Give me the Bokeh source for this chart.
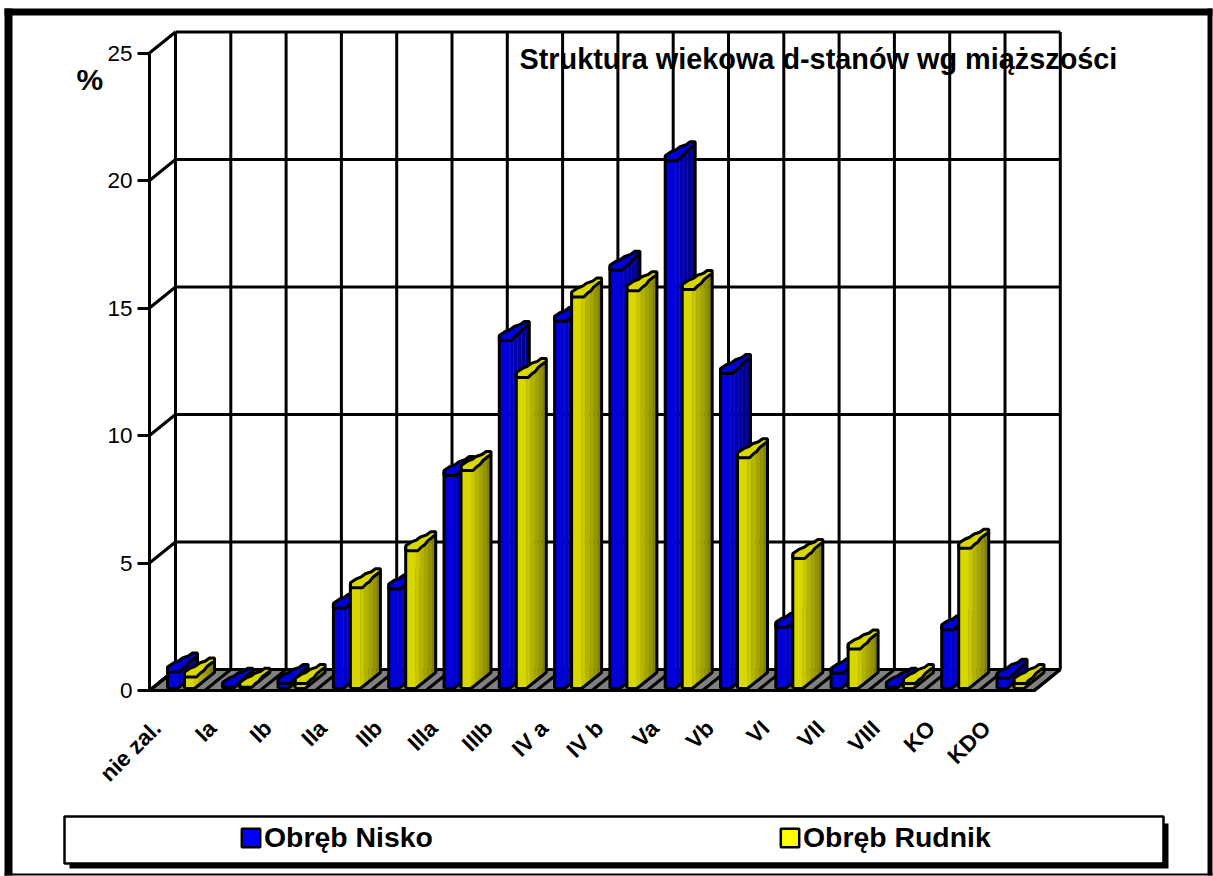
from bokeh.plotting import figure
from bokeh.models import (Range1d, FixedTicker, BoxAnnotation, Label, Legend, LegendItem)
from bokeh.embed import file_html
from bokeh.resources import INLINE
import math

categories = ["nie zal.", "Ia", "Ib", "IIa", "IIb", "IIIa", "IIIb", "IV a", "IV b", "Va", "Vb", "VI", "VII", "VIII", "KO", "KDO"]
nisko = [0.65, 0.05, 0.2, 3.15, 3.9, 8.35, 13.65, 14.4, 16.4, 20.7, 12.35, 2.4, 0.6, 0.05, 2.3, 0.4]
rudnik = [0.45, 0.05, 0.2, 3.95, 5.4, 8.55, 12.2, 15.35, 15.6, 15.65, 9.05, 5.1, 1.55, 0.2, 5.5, 0.2]
y_ticks = [0, 5, 10, 15, 20, 25]
TITLE = "Struktura wiekowa d-stanów wg miąższości"

BLUE_SHADES = ["#0000d8", "#0000c8", "#0000b4", "#0000a4", "#000094", "#000084"]
YELLOW_SHADES = ["#d8d800", "#c8c800", "#b4b400", "#a4a400", "#949400", "#808000"]

W, H = 1213, 876
LEFT, BOTTOM = 149, 690
CW, UH = 55.3, 25.5          # px per category, px per %
DX, DY = 26 / CW, 21 / UH    # depth of the chart box, in data units
LW = 3
n = len(categories)

# outline of a bar's top, px offsets from the front-left corner of its top
TOP_SHAPE = [(0, 0), (12, 0), (16, -4), (19, -6), (22, -10), (27, -14), (30, -16), (30, -19), (25, -19),
             (21, -16), (15, -14), (11, -11), (6, -9), (0, -5)]

p = figure(width=W, height=H, output_backend="svg", toolbar_location=None,
           x_range=Range1d(-LEFT / CW, (W - LEFT) / CW), y_range=Range1d(-(H - BOTTOM) / UH, BOTTOM / UH),
           min_border=0, outline_line_color=None)
p.grid.visible = False

# axes
ya = p.yaxis[0]
ya.fixed_location = 0
ya.ticker = FixedTicker(ticks=y_ticks)
ya.bounds = (0, 25)
ya.axis_line_width = LW
ya.major_tick_line_width = LW
ya.major_tick_out = 12
ya.major_tick_in = 0
ya.minor_tick_line_color = None
ya.major_label_text_font = "Liberation Sans"
ya.major_label_text_font_size = "22.5px"
ya.major_label_text_color = "black"
ya.major_label_standoff = 5

xa = p.xaxis[0]
xa.fixed_location = 0
tick_pos = [i + 0.14 for i in range(n)]
xa.ticker = FixedTicker(ticks=tick_pos)
xa.major_label_overrides = {t: c for t, c in zip(tick_pos, categories)}
xa.bounds = (0, n)
xa.axis_line_width = LW
xa.major_tick_line_color = None
xa.minor_tick_line_color = None
xa.major_label_orientation = math.radians(45)
xa.major_label_text_font = "Liberation Sans"
xa.major_label_text_font_style = "bold"
xa.major_label_text_font_size = "22.5px"
xa.major_label_text_color = "black"
xa.major_label_standoff = 28

# floor
p.patch([0, n, n + DX, DX], [0, 0, DY, DY], fill_color="#808080", line_color="black", line_width=LW)
p.multi_line([[i, i + DX] for i in range(n + 1)], [[0, DY] for _ in range(n + 1)], line_color="black", line_width=LW)
# back wall and side wall grid
p.multi_line([[DX, n + DX] for _ in y_ticks], [[t + DY, t + DY] for t in y_ticks], line_color="black", line_width=LW)
p.multi_line([[0, DX] for _ in y_ticks], [[t, t + DY] for t in y_ticks], line_color="black", line_width=LW)
p.multi_line([[i + DX, i + DX] for i in range(n + 1)], [[DY, 25 + DY] for _ in range(n + 1)], line_color="black", line_width=LW)


def draw_series(values, offset_px, shades):
    base = 2 / UH
    xs, ys, cols = [], [], []
    out_x, out_y, top_x, top_y = [], [], [], []
    front = 10 / CW
    depth = 20 / CW
    rise = 16 / UH
    m = len(shades) - 1
    for i, v in enumerate(values):
        x0 = i + offset_px / CW
        t = v + base
        xs.append([x0, x0 + front, x0 + front, x0])
        ys.append([base, base, t, t])
        cols.append(shades[0])
        for k in range(m):
            a, b = k / m, (k + 1) / m
            xa_, xb_ = x0 + front + a * depth, x0 + front + b * depth
            xs.append([xa_, xb_, xb_, xa_])
            ys.append([base + a * rise, base + b * rise, t + b * rise, t + a * rise])
            cols.append(shades[k + 1])
        out_x.append([x0, x0 + front, x0 + front + depth, x0 + front + depth])
        out_y.append([base, base, base + rise, t + rise])
        top_x.append([x0 + dx / CW for dx, _ in TOP_SHAPE])
        top_y.append([t - dy / UH for _, dy in TOP_SHAPE])
    p.patches(xs, ys, fill_color=cols, line_color=cols, line_width=0.5)
    p.multi_line(out_x, out_y, line_color="black", line_width=LW)
    p.patches(top_x, top_y, fill_color=shades[0], line_color="black", line_width=LW)
    xl = [x[0] for x in out_x]
    p.multi_line([[x, x] for x in xl], [[base, v + base + 4 / UH] for v in values], line_color="black", line_width=LW)


draw_series(nisko, 18, BLUE_SHADES)
draw_series(rudnik, 35, YELLOW_SHADES)


def box(l, r, t, b, color, **kw):
    p.add_layout(BoxAnnotation(left=l, right=r, top=t, bottom=b, left_units="canvas", right_units="canvas",
                               top_units="canvas", bottom_units="canvas", fill_color=color, fill_alpha=1,
                               line_color=None, **kw))


# page frame
box(4, 12, 8, 875, "black")
box(4, 1212, 8, 15, "black")
box(1207, 1212, 8, 875, "black")
box(4, 1212, 873, 875, "black")
# legend box with its shadow
box(69, 1168, 823, 868, "black")
box(64, 1163, 816, 863, "white")
p.add_layout(BoxAnnotation(left=64, right=1163, top=816, bottom=863, left_units="canvas", right_units="canvas",
                           top_units="canvas", bottom_units="canvas", fill_alpha=0, line_color="black",
                           line_alpha=1, line_width=2.5))

# legends: the swatch glyphs come from zero-size quads hidden on the axis origin
r1 = p.quad(left=[0], right=[0], top=[0], bottom=[0], fill_color="#0000ff", line_color="black", line_width=2.5)
r2 = p.quad(left=[0], right=[0], top=[0], bottom=[0], fill_color="#ffff00", line_color="black", line_width=2.5)
for lbl, rend, lx in (("Obręb Nisko", r1, 239), ("Obręb Rudnik", r2, 778)):
    lg = Legend(items=[LegendItem(label=lbl, renderers=[rend], index=0)], location=(lx, H - 854),
                border_line_color=None, background_fill_alpha=0, padding=0, margin=0,
                glyph_width=23, glyph_height=23, label_standoff=2,
                label_text_font="Liberation Sans", label_text_font_style="bold",
                label_text_font_size="28.4px", label_text_color="black")
    p.add_layout(lg, "center")

p.add_layout(Label(x=519, y=58, x_units="canvas", y_units="canvas", text=TITLE, text_font="Liberation Sans",
                   text_font_style="bold", text_font_size="28.85px", text_color="black", text_baseline="middle"))
p.add_layout(Label(x=76, y=79, x_units="canvas", y_units="canvas", text="%", text_font="Liberation Sans",
                   text_font_style="bold", text_font_size="30px", text_color="black", text_baseline="middle"))

open("out.html", "w").write(file_html(p, INLINE))
